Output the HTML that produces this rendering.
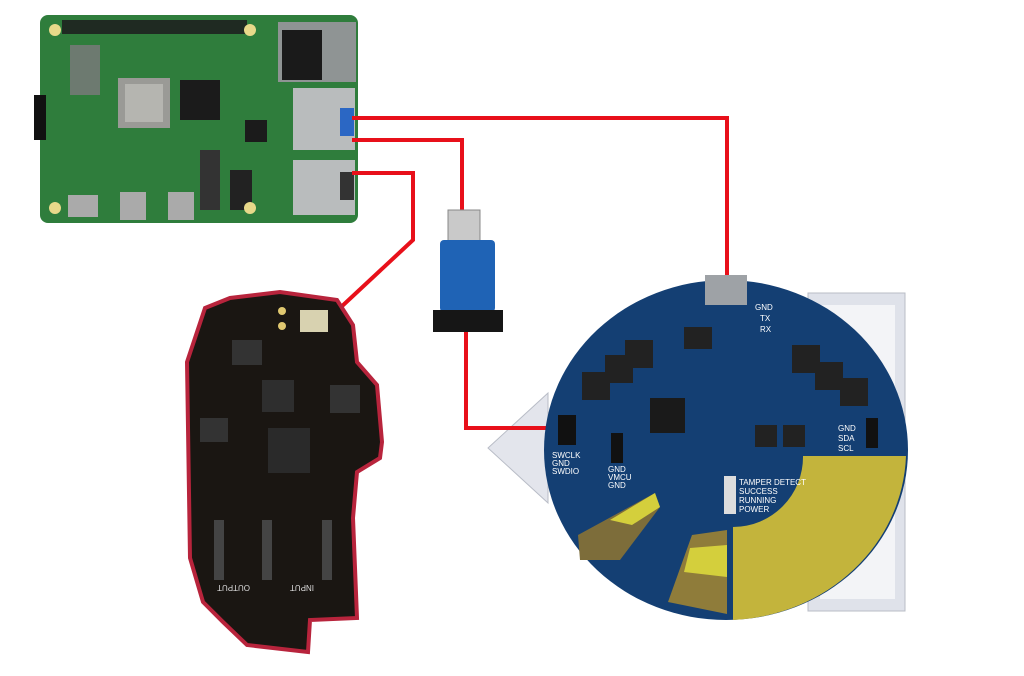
<!DOCTYPE html>
<html><head><meta charset="utf-8"><style>
html,body{margin:0;padding:0;background:#fff;}
svg{display:block}
text{font-family:"Liberation Sans",sans-serif}
</style></head><body>
<svg width="1024" height="676" viewBox="0 0 1024 676" xmlns="http://www.w3.org/2000/svg">
<rect width="1024" height="676" fill="#fff"/>
<!-- Raspberry Pi -->
<rect x="40" y="15" width="318" height="208" rx="8" fill="#2f7d3c"/>
<rect x="62" y="20" width="185" height="14" fill="#1f2a22"/>
<rect x="118" y="78" width="52" height="50" fill="#9a9a96"/>
<rect x="125" y="84" width="38" height="38" fill="#b5b5b0"/>
<rect x="180" y="80" width="40" height="40" fill="#1b1b1b"/>
<rect x="245" y="120" width="22" height="22" fill="#1b1b1b"/>
<rect x="70" y="45" width="30" height="50" fill="#6d7a70"/>
<rect x="34" y="95" width="12" height="45" fill="#111"/>
<rect x="200" y="150" width="20" height="60" fill="#333"/>
<rect x="230" y="170" width="22" height="40" fill="#222"/>
<rect x="68" y="195" width="30" height="22" fill="#aaa"/>
<rect x="120" y="192" width="26" height="28" fill="#aaa"/>
<rect x="168" y="192" width="26" height="28" fill="#aaa"/>
<rect x="278" y="22" width="78" height="60" fill="#8f9494"/>
<rect x="282" y="30" width="40" height="50" fill="#1a1a1a"/>
<rect x="293" y="88" width="62" height="62" fill="#b9bcbd"/>
<rect x="340" y="108" width="14" height="28" fill="#2b67c4"/>
<rect x="293" y="160" width="62" height="55" fill="#b9bcbd"/>
<rect x="340" y="172" width="14" height="28" fill="#333"/>
<circle cx="55" cy="30" r="6" fill="#e8d98a"/><circle cx="250" cy="30" r="6" fill="#e8d98a"/>
<circle cx="55" cy="208" r="6" fill="#e8d98a"/><circle cx="250" cy="208" r="6" fill="#e8d98a"/>
<!-- Right frame -->
<rect x="808" y="293" width="97" height="318" fill="#dfe2ea" stroke="#b8bcc6"/>
<rect x="820" y="305" width="75" height="294" fill="#f3f4f7"/>
<polygon points="548,393 488,448 548,503" fill="#e3e5ec" stroke="#b8bcc6"/>
<!-- Wires -->
<g stroke="#e8101a" stroke-width="4" fill="none" stroke-linejoin="miter">
<polyline points="352,118 727,118 727,285"/>
<polyline points="352,140 462,140 462,215"/>
<polyline points="352,173 413,173 413,240 325,322"/>
<polyline points="466,328 466,428 562,428"/>
</g>
<!-- USB stick -->
<rect x="448" y="210" width="32" height="32" fill="#c9c9c9" stroke="#888"/>
<rect x="440" y="240" width="55" height="72" rx="4" fill="#1f63b5"/>
<rect x="433" y="310" width="70" height="22" fill="#161616"/>
<!-- Left black PCB -->
<polygon points="205,308 230,298 280,292 337,300 353,325 357,362 377,385 382,442 380,458 357,472 353,518 357,618 310,620 308,652 247,645 223,622 203,602 190,558 187,362" fill="#1a1612" stroke="#b8243c" stroke-width="4"/>
<rect x="300" y="310" width="28" height="22" fill="#d8d2b0"/>
<circle cx="282" cy="311" r="4" fill="#e0c870"/><circle cx="282" cy="326" r="4" fill="#e0c870"/>
<rect x="232" y="340" width="30" height="25" fill="#333"/>
<rect x="262" y="380" width="32" height="32" fill="#2e2e2e"/>
<rect x="268" y="428" width="42" height="45" fill="#2a2a2a"/>
<rect x="330" y="385" width="30" height="28" fill="#333"/>
<rect x="200" y="418" width="28" height="24" fill="#333"/>
<rect x="214" y="520" width="10" height="60" fill="#444"/>
<rect x="262" y="520" width="10" height="60" fill="#444"/>
<rect x="322" y="520" width="10" height="60" fill="#444"/>
<text x="222" y="591" font-size="8" fill="#ddd" transform="rotate(180 236 588)">OUTPUT</text>
<text x="290" y="591" font-size="8" fill="#ddd" transform="rotate(180 302 588)">INPUT</text>
<!-- Blue circular PCB -->
<ellipse cx="726" cy="450" rx="182" ry="170" fill="#143f73"/>
<path d="M803,456 L906,456 A182,170 0 0 1 733,620 L733,527 A70,70 0 0 0 803,456 Z" fill="#c3b43c"/>
<polygon points="692,535 727,530 727,614 668,602" fill="#8f7c3a"/>
<polygon points="690,548 727,545 727,577 684,572" fill="#d4cf3c"/>
<polygon points="578,535 655,493 660,507 620,560 580,560" fill="#7d6d3a"/>
<polygon points="610,520 655,493 660,507 632,525" fill="#d4cf3c"/>
<rect x="705" y="275" width="42" height="30" fill="#9ea2a6"/>
<rect x="650" y="398" width="35" height="35" fill="#1a1a1a"/>
<rect x="582" y="372" width="28" height="28" fill="#222"/><rect x="605" y="355" width="28" height="28" fill="#222"/><rect x="625" y="340" width="28" height="28" fill="#222"/>
<rect x="792" y="345" width="28" height="28" fill="#222"/><rect x="815" y="362" width="28" height="28" fill="#222"/><rect x="840" y="378" width="28" height="28" fill="#222"/>
<rect x="684" y="327" width="28" height="22" fill="#222"/>
<rect x="755" y="425" width="22" height="22" fill="#222"/><rect x="783" y="425" width="22" height="22" fill="#222"/>
<rect x="558" y="415" width="18" height="30" fill="#111"/>
<rect x="611" y="433" width="12" height="30" fill="#111"/>
<rect x="866" y="418" width="12" height="30" fill="#111"/>
<rect x="724" y="476" width="12" height="38" fill="#ddd"/>
<g font-size="8" fill="#fff">
<text x="739" y="485">TAMPER DETECT</text>
<text x="739" y="494">SUCCESS</text>
<text x="739" y="503">RUNNING</text>
<text x="739" y="512">POWER</text>
<text x="552" y="458">SWCLK</text><text x="552" y="466">GND</text><text x="552" y="474">SWDIO</text>
<text x="608" y="472">GND</text><text x="608" y="480">VMCU</text><text x="608" y="488">GND</text>
<text x="838" y="431">GND</text><text x="838" y="441">SDA</text><text x="838" y="451">SCL</text>
<text x="755" y="310">GND</text><text x="760" y="321">TX</text><text x="760" y="332">RX</text>
</g>
</svg>
</body></html>
